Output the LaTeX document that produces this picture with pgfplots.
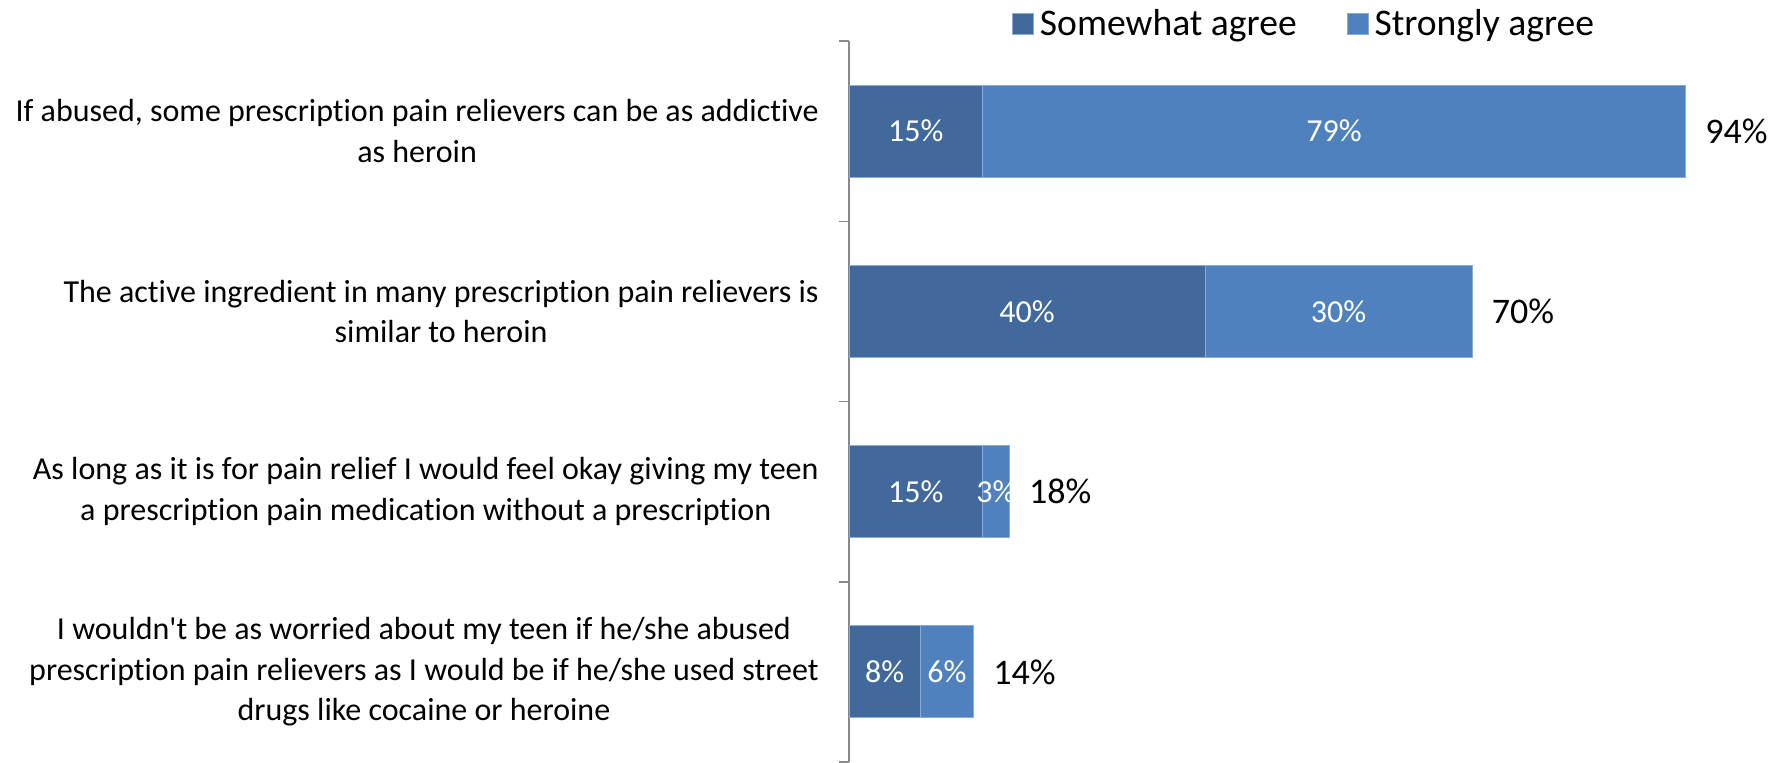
\documentclass[border=0pt]{standalone}
\usepackage{fontspec}
\setmainfont{Carlito}[Ligatures={NoCommon}]
\usepackage{pgfplots}
\pgfplotsset{compat=1.18}
\usepackage{pgfplotstable}
\definecolor{cdark}{HTML}{41699B}
\definecolor{clight}{HTML}{4F81BD}
\definecolor{cedge}{HTML}{8DAAD2}
\definecolor{caxis}{HTML}{8A8A8A}
\pgfplotstableread{
y somewhat strongly total
0 15 79 94
1 40 30 70
2 15 3 18
3 8 6 14
}\datatable
\pgfplotsset{
  common/.style={
    at={(424.5pt,0pt)}, anchor=south west,
    scale only axis,
    width=445pt, height=360.5pt,
    xmin=0, xmax=100,
    ymin=-0.5, ymax=3.5,
    y dir=reverse,
    clip=false,
    /pgf/number format/assume math mode=true,
  }
}
\begin{document}
\begin{tikzpicture}
\useasboundingbox (0,0) rectangle (892.5pt,381pt);
\begin{axis}[
  common,
  xbar stacked,
  bar width=46pt,
  hide x axis,
  axis y line*=left,
  y axis line style={-, draw=caxis, line width=0.75pt},
  ytick={0,1,2,3},
  yticklabels={
    {If abused, some prescription pain relievers can be as addictive\\as heroin},
    {The active ingredient in many prescription pain relievers is\\similar to heroin},
    {As long as it is for pain relief I would feel okay giving my teen\\a prescription pain medication without a prescription},
    {I wouldn\textquotesingle t be as worried about my teen if he/she abused\\prescription pain relievers as I would be if he/she used street\\drugs like cocaine or heroine}
  },
  yticklabel style={align=center, font=\fontsize{16}{20.2}\selectfont, inner sep=0pt, xshift=-15pt},
  major tick length=0pt,
  minor ytick={-0.5,0.5,1.5,2.5,3.5},
  minor tick length=5pt,
  tick align=outside,
  every tick/.style={draw=caxis, line width=0.75pt},
  legend style={
    at={(0.5125,1.0236)}, anchor=center,
    draw=none, fill=none,
    legend columns=2,
    font=\fontsize{18.8}{22}\selectfont,
    /tikz/every even column/.append style={column sep=23pt},
    inner sep=0pt,
  },
  legend image code/.code={\fill[#1] (0pt,-5.25pt) rectangle (10.5pt,5.25pt); \path (11.5pt,0pt);},
]
\addplot[fill=cdark, draw=cedge, line width=0.4pt,
  nodes near coords={\pgfmathprintnumber{\pgfplotspointmeta}\%},
  every node near coord/.style={anchor=center, text=white, font=\fontsize{16}{19}\selectfont},
] table[x=somewhat, y=y] {\datatable};
\addlegendentry{Somewhat agree}
\addplot[fill=clight, draw=cedge, line width=0.4pt,
  nodes near coords={\pgfmathprintnumber{\pgfplotspointmeta}\%},
  every node near coord/.style={anchor=center, text=white, font=\fontsize{16}{19}\selectfont},
] table[x=strongly, y=y] {\datatable};
\addlegendentry{Strongly agree}
\end{axis}
\begin{axis}[
  common,
  xbar, bar width=46pt, bar shift=0pt,
  hide x axis, hide y axis,
]
\addplot[draw=none, fill=none,
  nodes near coords={\pgfmathprintnumber{\pgfplotspointmeta}\%},
  every node near coord/.style={anchor=west, xshift=9.7pt, inner sep=0pt, text=black, font=\fontsize{18}{21}\selectfont},
] table[x=total, y=y] {\datatable};
\end{axis}
\end{tikzpicture}
\end{document}
